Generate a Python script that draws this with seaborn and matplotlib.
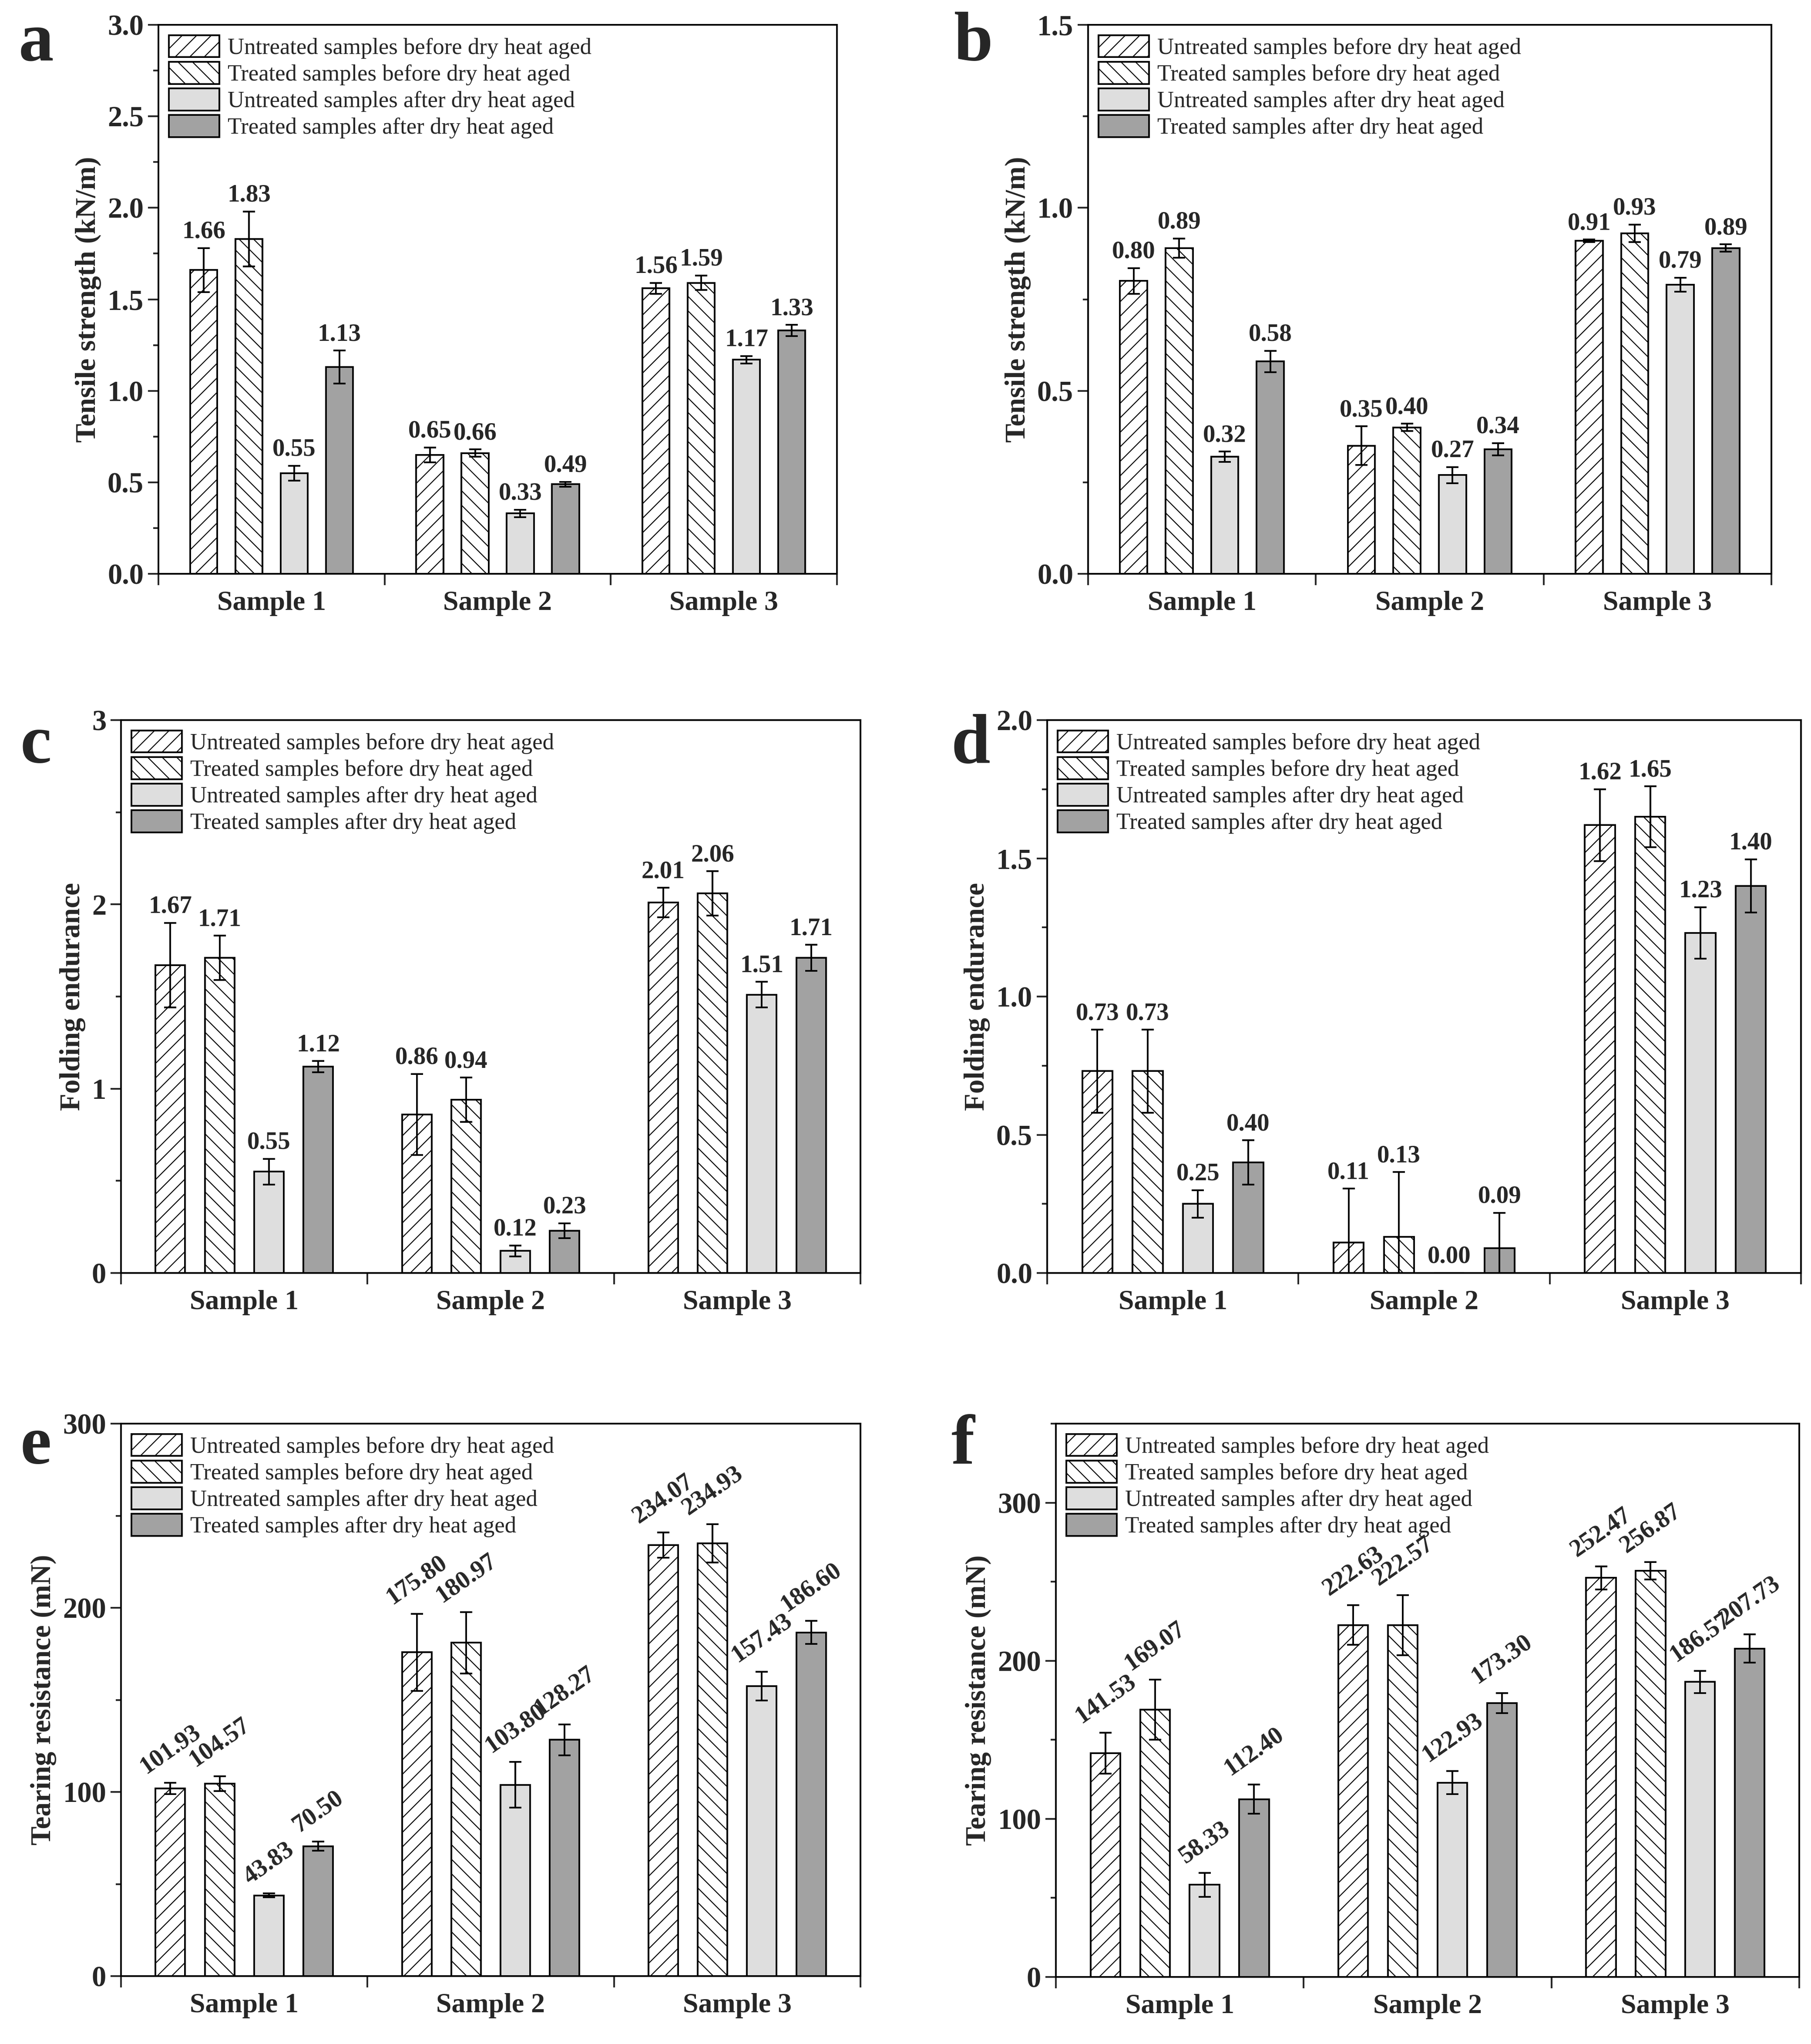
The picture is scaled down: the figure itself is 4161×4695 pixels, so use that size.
import numpy as np
import pandas as pd
import matplotlib
matplotlib.use('Agg')
import matplotlib.pyplot as plt
import matplotlib.patches as mpatches
from matplotlib.ticker import MultipleLocator, FormatStrFormatter
import seaborn as sns

# categories and series
samples = ['Sample 1', 'Sample 2', 'Sample 3']
series = ['Untreated samples before dry heat aged',
          'Treated samples before dry heat aged',
          'Untreated samples after dry heat aged',
          'Treated samples after dry heat aged']

# values per series (Sample 1, Sample 2, Sample 3) and error bars
tensile_a = [[1.66, 0.65, 1.56], [1.83, 0.66, 1.59], [0.55, 0.33, 1.17], [1.13, 0.49, 1.33]]
tensile_a_err = [[0.12, 0.04, 0.03], [0.15, 0.02, 0.04], [0.04, 0.02, 0.02], [0.09, 0.013, 0.03]]

tensile_b = [[0.80, 0.35, 0.91], [0.89, 0.40, 0.93], [0.32, 0.27, 0.79], [0.58, 0.34, 0.89]]
tensile_b_err = [[0.035, 0.053, 0.003], [0.026, 0.01, 0.024], [0.014, 0.022, 0.019], [0.029, 0.017, 0.01]]

folding_c = [[1.67, 0.86, 2.01], [1.71, 0.94, 2.06], [0.55, 0.12, 1.51], [1.12, 0.23, 1.71]]
folding_c_err = [[0.23, 0.22, 0.08], [0.12, 0.12, 0.12], [0.07, 0.03, 0.07], [0.03, 0.04, 0.07]]

folding_d = [[0.73, 0.11, 1.62], [0.73, 0.13, 1.65], [0.25, 0.00, 1.23], [0.40, 0.09, 1.40]]
folding_d_err = [[0.15, 0.195, 0.13], [0.15, 0.235, 0.11], [0.05, 0.0, 0.093], [0.08, 0.128, 0.096]]

tearing_e = [[101.93, 175.80, 234.07], [104.57, 180.97, 234.93], [43.83, 103.80, 157.43], [70.50, 128.27, 186.60]]
tearing_e_err = [[3.0, 21.0, 6.8], [4.0, 16.7, 10.4], [1.0, 12.4, 7.9], [2.5, 8.3, 6.3]]

tearing_f = [[141.53, 222.63, 252.47], [169.07, 222.57, 256.87], [58.33, 122.93, 186.57], [112.40, 173.30, 207.73]]
tearing_f_err = [[13.0, 12.6, 7.3], [19.0, 19.0, 5.5], [7.6, 7.3, 7.0], [9.2, 6.3, 8.9]]

fills = ['white', 'white', '#dedede', '#a2a2a2']
hatches = ['//', '\\\\', '', '']

sns.set_theme(style='ticks')
plt.rcParams['font.family'] = ['Liberation Serif', 'DejaVu Serif']
plt.rcParams['hatch.linewidth'] = 0.8
plt.rcParams['axes.linewidth'] = 1.4

W, H = 4161, 4695
fig = plt.figure(figsize=(W / 200, H / 200), dpi=200)

# panel: letter, values, errors, ylabel, ymax, major step, tick format, rotated labels, rect (px), letter pos (px)
panels = [
    ('a', tensile_a, tensile_a_err, 'Tensile strength (kN/m)', 3.0, 0.5, '%.1f', False, (364, 1923, 57, 1318), (43, 139)),
    ('b', tensile_b, tensile_b_err, 'Tensile strength (kN/m)', 1.5, 0.5, '%.1f', False, (2500, 4070, 57, 1318), (2192, 139)),
    ('c', folding_c, folding_c_err, 'Folding endurance', 3.0, 1.0, '%d', False, (278, 1977, 1654, 2924), (47, 1752)),
    ('d', folding_d, folding_d_err, 'Folding endurance', 2.0, 0.5, '%.1f', False, (2406, 4138, 1654, 2924), (2186, 1752)),
    ('e', tearing_e, tearing_e_err, 'Tearing resistance (mN)', 300, 100, '%d', True, (278, 1977, 3270, 4539), (47, 3362)),
    ('f', tearing_f, tearing_f_err, 'Tearing resistance (mN)', 350, 100, '%d', True, (2426, 4134, 3270, 4541), (2186, 3362)),
]

for letter, vals, errs, ylabel, ymax, step, fmt, rotated, rect, lpos in panels:
    left, right, top, bottom = rect
    ax = fig.add_axes([left / W, 1 - bottom / H, (right - left) / W, (bottom - top) / H])

    # long-form table for seaborn
    rows = []
    for s, name in enumerate(series):
        for k, smp in enumerate(samples):
            rows.append({'Sample': smp, 'Series': name, 'Value': vals[s][k]})
    df = pd.DataFrame(rows)

    sns.barplot(data=df, x='Sample', y='Value', hue='Series', order=samples, hue_order=series,
                palette=dict(zip(series, fills)), saturation=1, gap=0.4, errorbar=None,
                edgecolor='black', linewidth=1.4, legend=False, ax=ax)

    bar_groups = list(ax.containers)
    for s, cont in enumerate(bar_groups):
        xs, ys = [], []
        for bar in cont:
            bar.set_hatch(hatches[s])
            xs.append(bar.get_x() + bar.get_width() / 2)
            ys.append(bar.get_height())
        ax.errorbar(xs, ys, yerr=errs[s], fmt='none', ecolor='black', elinewidth=1.4,
                    capsize=4.9, capthick=1.4, zorder=3)
        for x, y, e in zip(xs, ys, errs[s]):
            if rotated:
                ax.annotate(f'{y:.2f}', (x, y + e), xytext=(0, 4), textcoords='offset points',
                            ha='center', va='bottom', rotation=35, fontsize=20.5, fontweight='bold')
            else:
                ax.annotate(f'{y:.2f}', (x, y + e), xytext=(0, 4), textcoords='offset points',
                            ha='center', va='bottom', fontsize=20.5, fontweight='bold')

    ax.set_xlim(-0.5, 2.5)
    ax.set_ylim(0, ymax)
    ax.yaxis.set_major_locator(MultipleLocator(step))
    ax.yaxis.set_minor_locator(MultipleLocator(step / 2))
    ax.yaxis.set_major_formatter(FormatStrFormatter(fmt))
    ax.set_xticks([0, 1, 2])
    ax.set_xticklabels(samples, fontsize=23, fontweight='bold')
    ax.set_xticks([-0.5, 0.5, 1.5, 2.5], minor=True)
    ax.tick_params(axis='x', which='major', length=0, pad=14)
    ax.tick_params(axis='x', which='minor', length=9.5, width=1.4, direction='out')
    ax.tick_params(axis='y', which='major', length=8.6, width=1.4, pad=3.6, labelsize=24, direction='out')
    ax.tick_params(axis='y', which='minor', length=4.5, width=1.4, direction='out')
    for lab in ax.get_yticklabels():
        lab.set_fontweight('bold')
    ax.set_xlabel('')
    ax.set_ylabel(ylabel, fontsize=23.5, fontweight='bold', labelpad=5)
    for sp in ax.spines.values():
        sp.set_visible(True)
        sp.set_linewidth(1.4)
        sp.set_color('black')

    handles = [mpatches.Patch(facecolor=fills[i], hatch=hatches[i], edgecolor='black',
                              linewidth=1.4, label=series[i]) for i in range(4)]
    ax.legend(handles=handles, loc='upper left', bbox_to_anchor=(0, 1), frameon=False,
              fontsize=19, handlelength=2.2, handleheight=1.1, labelspacing=0.13,
              handletextpad=0.37, borderpad=0.45, borderaxespad=0)

    fig.text(lpos[0] / W, 1 - lpos[1] / H, letter, fontsize=58, fontweight='bold',
             ha='left', va='baseline')

fig.savefig('out.png', dpi=200, facecolor='white')
